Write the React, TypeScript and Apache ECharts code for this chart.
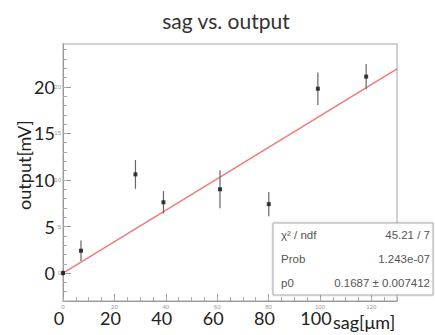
import React, { useEffect, useRef } from "react";
import * as echarts from "echarts";

const titleText = "sag vs. output";
const xName = "sag[μm]";
const yName = "output[mV]";

const sagValues = [0, 7, 28.2, 39.1, 61.1, 80.1, 99.2, 118];
const outputValues = [0, 2.4, 10.6, 7.6, 9.0, 7.4, 19.8, 21.1];
const outputErrors = [0.3, 1.1, 1.55, 1.2, 2.05, 1.3, 1.75, 1.35];

const fitSlope = 0.1687;
const fitRange = [0, 130];

const xMajorTicks = [0, 20, 40, 60, 80, 100, 120];
const xMinorTicks = Array.from({ length: 27 }, (_, i) => i * 5);
const xBigLabels = [0, 20, 40, 60, 80, 100];
const yMajorTicks = [0, 5, 10, 15, 20];
const yMinorTicks = Array.from({ length: 28 }, (_, i) => i - 3);
const yBigLabels = [0, 5, 10, 15, 20];

const statLabels = ["χ² / ndf", "Prob", "p0"];
const statValues = ["45.21 / 7", "1.243e-07", "0.1687 ± 0.007412"];

const X_MIN = 0;
const X_MAX = 130;
const Y_MIN = -3;
const Y_MAX = 24.6;

export default function App() {
  const ref = useRef<HTMLDivElement>(null);
  useEffect(() => {
    document.body.style.margin = "0";
    if (!ref.current) return;
    const chart = echarts.init(ref.current, null, { renderer: "svg" });
    const axisBase = { type: "value", min: X_MIN, max: X_MAX, position: "bottom", splitLine: { show: false } };
    const yBase = { type: "value", min: Y_MIN, max: Y_MAX, position: "left", splitLine: { show: false } };
    const points = sagValues.map((x, i) => [x, outputValues[i], outputErrors[i]]);
    const statTexts: any[] = [];
    const rowY = [235, 259, 283];
    statLabels.forEach((l, i) => {
      statTexts.push({
        type: "text",
        x: 281,
        y: rowY[i],
        style: { text: l, font: "11.5px 'Liberation Sans'", fill: "#555", verticalAlign: "middle" },
      });
      statTexts.push({
        type: "text",
        x: 430,
        y: rowY[i],
        style: { text: statValues[i], font: "11.5px 'Liberation Sans'", fill: "#555", align: "right", verticalAlign: "middle" },
      });
    });
    chart.setOption({
      animation: false,
      backgroundColor: "#fff",
      title: {
        text: titleText,
        left: 221,
        top: 5,
        textAlign: "center",
        textStyle: { fontFamily: "Lato", fontSize: 21, fontWeight: "normal", color: "#333" },
      },
      grid: {
        left: 63,
        top: 44,
        right: 38,
        bottom: 34,
        show: true,
        borderColor: "#c4c4c4",
        borderWidth: 1.5,
      },
      xAxis: [
        {
          ...axisBase,
          axisLine: { show: true, onZero: false, lineStyle: { color: "#999", width: 1 } },
          axisTick: { show: true, inside: true, length: 7, customValues: xMajorTicks, lineStyle: { color: "#999" } },
          axisLabel: { show: true, customValues: xMajorTicks, fontSize: 6, color: "#999", margin: 3, fontFamily: "Liberation Sans" },
        },
        {
          ...axisBase,
          axisLine: { show: false, onZero: false },
          axisTick: { show: true, inside: true, length: 4, customValues: xMinorTicks, lineStyle: { color: "#aaa" } },
          axisLabel: { show: false },
        },
        {
          ...axisBase,
          axisLine: { show: false, onZero: false },
          axisTick: { show: false },
          axisLabel: { show: true, customValues: xBigLabels, fontSize: 18, color: "#222", margin: 8, fontFamily: "Lato", padding: [0, 8, 0, 0] },
        },
      ],
      yAxis: [
        {
          ...yBase,
          axisLine: { show: true, onZero: false, lineStyle: { color: "#999", width: 1 } },
          axisTick: { show: true, inside: true, length: 8, customValues: yMajorTicks, lineStyle: { color: "#999" } },
          axisLabel: { show: true, customValues: yMajorTicks, fontSize: 6, color: "#999", margin: 2, fontFamily: "Liberation Sans" },
        },
        {
          ...yBase,
          axisLine: { show: false, onZero: false },
          axisTick: { show: true, inside: true, length: 4, customValues: yMinorTicks, lineStyle: { color: "#aaa" } },
          axisLabel: { show: false },
        },
        {
          ...yBase,
          axisLine: { show: false, onZero: false },
          axisTick: { show: false },
          axisLabel: { show: true, customValues: yBigLabels, fontSize: 18, color: "#222", margin: 8, fontFamily: "Lato" },
        },
      ],
      series: [
        {
          type: "line",
          xAxisIndex: 0,
          yAxisIndex: 0,
          data: fitRange.map((x) => [x, fitSlope * x]),
          symbol: "none",
          lineStyle: { color: "#f27a7a", width: 1.5 },
          z: 3,
        },
        {
          type: "custom",
          xAxisIndex: 0,
          yAxisIndex: 0,
          data: points,
          encode: { x: 0, y: 1 },
          renderItem: (params: any, api: any) => {
            const x = api.value(0);
            const y = api.value(1);
            const e = api.value(2);
            const p1 = api.coord([x, y - e]);
            const p2 = api.coord([x, y + e]);
            return {
              type: "line",
              shape: { x1: p1[0], y1: p1[1], x2: p2[0], y2: p2[1] },
              style: { stroke: "#666", lineWidth: 1.2 },
            };
          },
          z: 4,
        },
        {
          type: "scatter",
          xAxisIndex: 0,
          yAxisIndex: 0,
          data: points.map((p) => [p[0], p[1]]),
          symbol: "rect",
          symbolSize: 4,
          itemStyle: { color: "#111" },
          z: 5,
        },
      ],
      graphic: [
        {
          type: "text",
          x: 24,
          y: 165,
          rotation: Math.PI / 2,
          style: { text: yName, font: "18px Lato", fill: "#222", align: "center", verticalAlign: "middle" },
        },
        {
          type: "text",
          x: 333,
          y: 322,
          style: { text: xName, font: "18px Lato", fill: "#222", align: "left", verticalAlign: "middle" },
        },
        {
          type: "rect",
          shape: { x: 273, y: 223, width: 160, height: 72 },
          style: { fill: "#fff", stroke: "#aaa", lineWidth: 1, shadowBlur: 2, shadowColor: "rgba(0,0,0,0.2)" },
          z: 10,
        },
        ...statTexts.map((t) => ({ ...t, z: 11 })),
      ],
    });
    return () => chart.dispose();
  }, []);
  return <div ref={ref} style={{ width: 435, height: 335 }} />;
}
